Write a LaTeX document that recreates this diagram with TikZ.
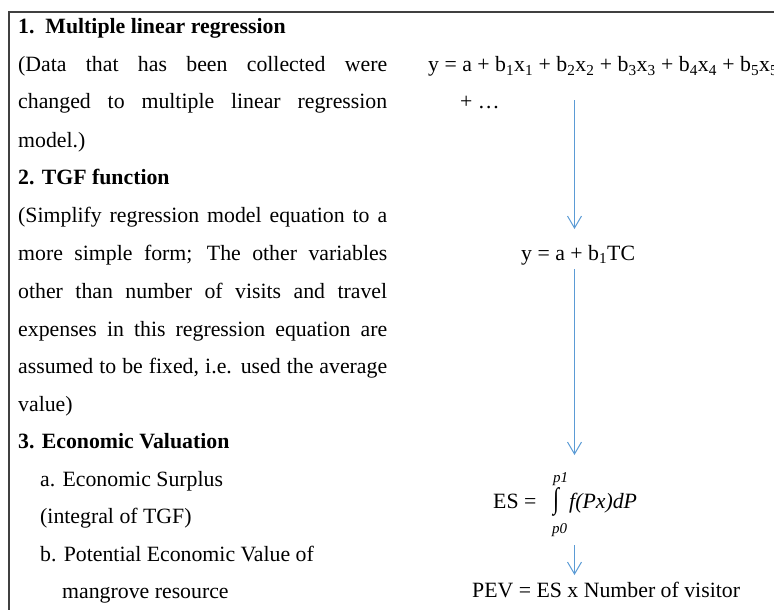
\documentclass[tikz,border=0pt]{standalone}
\usepackage{fontspec}
\setmainfont{Liberation Serif}
\usepackage{tikz}
\usetikzlibrary{positioning,calc,arrows.meta}
\colorlet{frameGray}{black!75}
\definecolor{flowBlue}{RGB}{91,155,213}
\newcommand{\jline}[1]{\makebox[369pt][s]{#1}}

\begin{document}
\begin{tikzpicture}[x=1pt, y=-1pt,
  every node/.style={font=\fontsize{21.8}{26}\selectfont, inner sep=0pt, anchor=base west},
  head/.style={font=\fontsize{21.8}{26}\selectfont\bfseries},
  lim/.style={font=\fontsize{15}{18}\selectfont\itshape},
  flow/.style={-{Straight Barb[length=12pt,width=14pt]}, flowBlue, line width=1pt}]
  \clip (0,0) rectangle (774,610);
  \draw[frameGray, line width=1.3pt] (9,615) -- (9,12) -- (780,12);

  \node[head] (h1) at (18,34) {1.\ \ Multiple linear regression};
  \node (l2) at (18,72) {\jline{(Data that has been collected were}};
  \node (l3) at (18,109) {\jline{changed to multiple linear regression}};
  \node (l4) at (18,147) {model.)};
  \node[head] (h2) at (18,184) {2. TGF function};
  \node (l6) at (18,222) {\jline{(Simplify regression model equation to a}};
  \node (l7) at (18,260) {\jline{more simple form; The other variables}};
  \node (l8) at (18,298) {\jline{other than number of visits and travel}};
  \node (l9) at (18,336) {\jline{expenses in this regression equation are}};
  \node (l10) at (18,373) {\jline{assumed to be fixed, i.e. used the average}};
  \node (l11) at (18,411) {value)};
  \node[head] (h3) at (18,448) {3. Economic Valuation};
  \node (l13) at (40,486) {a. Economic Surplus};
  \node (l14) at (40,523) {(integral of TGF)};
  \node (l15) at (40,561) {b. Potential Economic Value of};
  \node (l16) at (62,598) {mangrove resource};

  \coordinate (col) at (574.5,0);
  \node (eqA) at (428,72) {y = a + b\textsubscript{1}x\textsubscript{1} + b\textsubscript{2}x\textsubscript{2} + b\textsubscript{3}x\textsubscript{3} + b\textsubscript{4}x\textsubscript{4} + b\textsubscript{5}x\textsubscript{5}};
  \node (eqA2) at (460,109) {+ …};
  \node (eqB) at (521,260) {y = a + b\textsubscript{1}TC};
  \node (es) at (493,508) {ES =};
  \node (int) at (553,508) {\scalebox{1}[1.35]{∫}};
  \node[lim] (p1) at (553,482) {p1};
  \node[lim] (p0) at (552,533) {p0};
  \node (fpx) at (569,508) {\itshape f(Px)dP};
  \node (pev) at (472,597) {PEV = ES x Number of visitor};

  \draw[flow] ($(eqA.base -| col)+(0,28)$) -- ($(eqB.base -| col)+(0,-31)$);
  \draw[flow] ($(eqB.base -| col)+(0,9)$) -- ($(es.base -| col)+(0,-53)$);
  \draw[flow] ($(p0.base -| col)+(0,12)$) -- ($(pev.base -| col)+(0,-22)$);
\end{tikzpicture}
\end{document}
